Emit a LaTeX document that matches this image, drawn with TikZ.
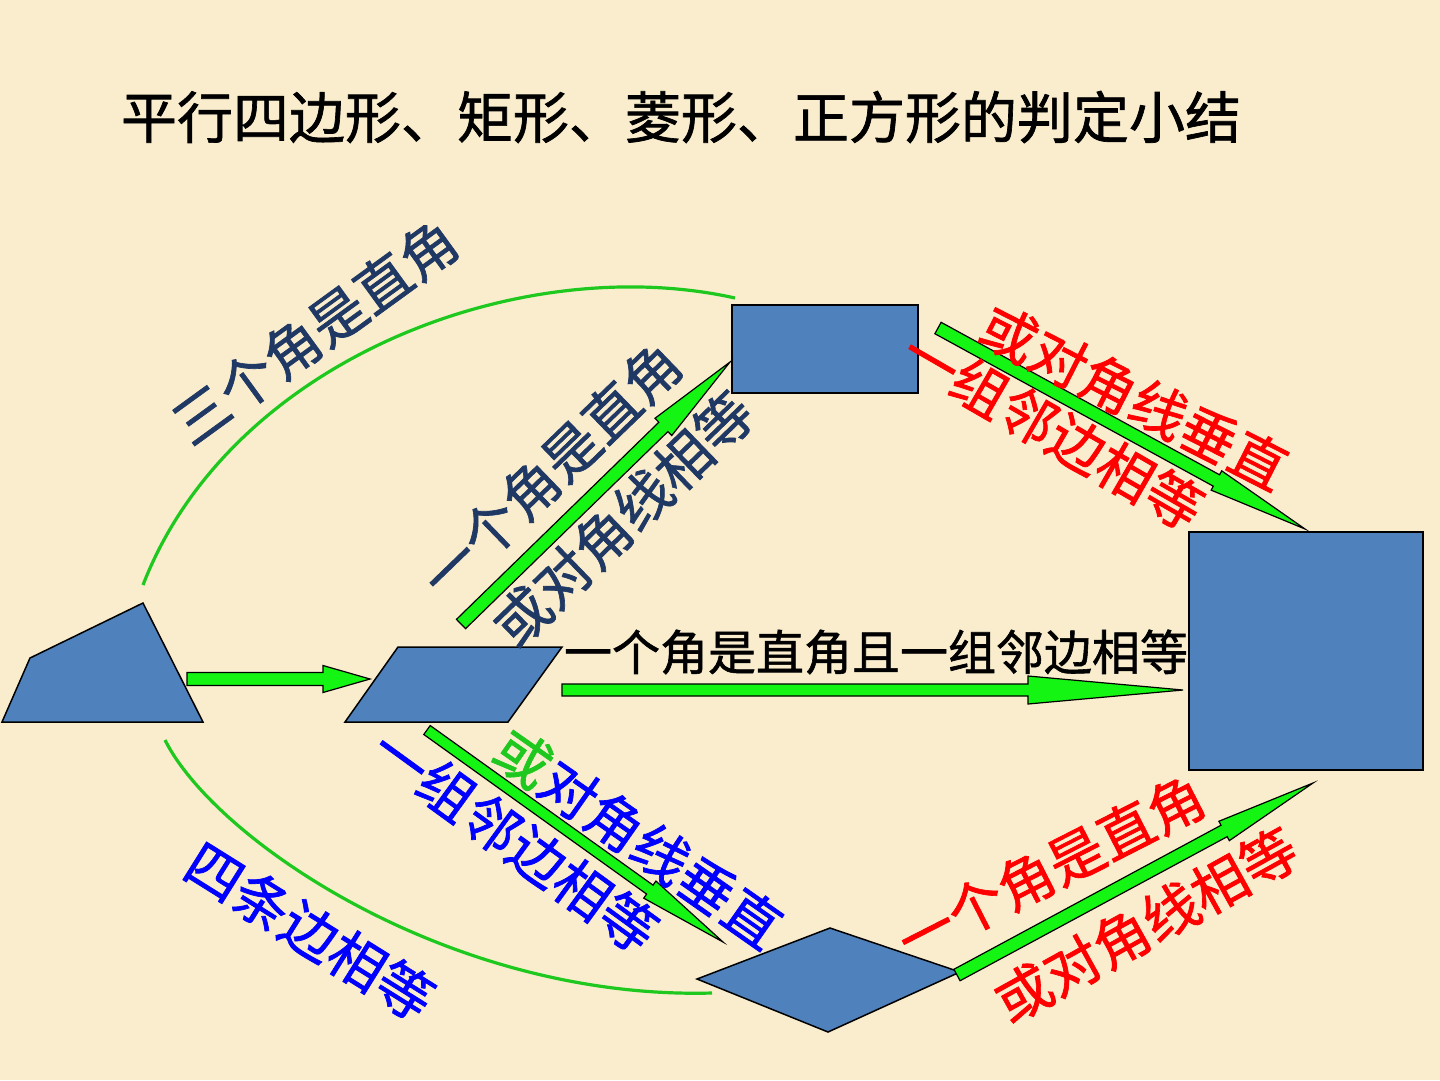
\documentclass[tikz,border=0pt]{standalone}
\usepackage{fontspec}
\newfontfamily\cjk{Noto Sans CJK SC}[FakeBold=1.2]
\usetikzlibrary{calc}
\definecolor{bg}{RGB}{249,237,205}
\definecolor{shapeblue}{RGB}{79,129,189}
\definecolor{arrowgreen}{RGB}{20,245,20}
\definecolor{curvegreen}{RGB}{30,200,30}
\definecolor{navy}{RGB}{31,56,100}
\definecolor{myred}{RGB}{255,0,0}
\definecolor{myblue}{RGB}{0,0,255}
\tikzset{
  shapebox/.style={fill=shapeblue, draw=black, line width=1.5pt, line join=miter},
  arrowbody/.style={fill=arrowgreen, draw=black, line width=1.2pt, line join=miter},
  curveline/.style={draw=curvegreen, line width=3.2pt},
  lbl/.style={inner sep=0pt, font=\cjk\fontsize{56}{60}\selectfont},
  hlbl/.style={inner sep=0pt, font=\cjk\fontsize{48}{52}\selectfont},
  ttl/.style={inner sep=0pt, font=\cjk\fontsize{56}{60}\selectfont},
}
\newcommand\blockarrow[5]{%
  \coordinate (ba-h) at ($(#2)!#5!(#1)$);
  \filldraw[arrowbody] ($(#1)!#3!90:(#2)$) -- ($(ba-h)!#3!90:(#2)$) -- ($(ba-h)!#4!90:(#2)$) -- (#2)
    -- ($(ba-h)!#4!-90:(#2)$) -- ($(ba-h)!#3!-90:(#2)$) -- ($(#1)!#3!-90:(#2)$) -- cycle;
}
\begin{document}
\begin{tikzpicture}[x=1pt,y=-1pt]
\fill[bg] (0,0) rectangle (1440,1080);
\useasboundingbox (0,0) rectangle (1440,1080);

% title
\node[ttl] (title) at (681,117) {平行四边形、矩形、菱形、正方形的判定小结};

% shapes
\coordinate (q1) at (2,722); \coordinate (q2) at (30,658);
\coordinate (q3) at (143,603); \coordinate (q4) at (203,722);
\filldraw[shapebox] (q1) -- (q2) -- (q3) -- (q4) -- cycle;

\coordinate (p1) at (345,722); \coordinate (p2) at (398,647);
\coordinate (p3) at (562,647); \coordinate (p4) at (508,722);
\filldraw[shapebox] (p1) -- (p2) -- (p3) -- (p4) -- cycle;

\coordinate (r1) at (732,305); \coordinate (r2) at (918,393);
\filldraw[shapebox] (r1) rectangle (r2);

\coordinate (s1) at (1189,532); \coordinate (s2) at (1423,770);
\filldraw[shapebox] (s1) rectangle (s2);

\coordinate (d1) at (697,979); \coordinate (d2) at (830,928);
\coordinate (d3) at (960,972); \coordinate (d4) at (828,1032);
\filldraw[shapebox] (d1) -- (d2) -- (d3) -- (d4) -- cycle;

% curves
\coordinate (cu0) at (143,585); \coordinate (cu1) at (735,298);
\draw[curveline] (cu0) .. controls (230,360) and (520,250) .. (cu1);
\coordinate (cl0) at (165,740); \coordinate (cl1) at (712,993);
\draw[curveline] (cl0) .. controls (215,840) and (450,1000) .. (cl1);

% block arrows
\coordinate (a1s) at (187,679); \coordinate (a1e) at (370,679);
\blockarrow{a1s}{a1e}{6.5pt}{13.5pt}{47pt}
\coordinate (a2s) at (461,624); \coordinate (a2e) at (730,362);
\blockarrow{a2s}{a2e}{6.5pt}{12pt}{93pt}
\coordinate (a3s) at (938,328); \coordinate (a3e) at (1305,529);
\blockarrow{a3s}{a3e}{6.5pt}{11pt}{101pt}
\coordinate (a4s) at (562,690); \coordinate (a4e) at (1183,690);
\blockarrow{a4s}{a4e}{6pt}{14pt}{155pt}
\coordinate (a5s) at (427,730); \coordinate (a5e) at (723,942);
\blockarrow{a5s}{a5e}{5.5pt}{10.5pt}{90pt}
\coordinate (a6s) at (957,975); \coordinate (a6e) at (1313,783);
\blockarrow{a6s}{a6e}{6.5pt}{11pt}{101pt}

% labels
\node[lbl, text=navy, rotate=36] (t1) at (315,332) {三个角是直角};
\node[lbl, text=navy, rotate=44] (t2) at (551,470) {一个角是直角};
\node[lbl, text=navy, rotate=44] (t3) at (623,519) {或对角线相等};
\node[hlbl, text=black] (t4) at (876,652) {一个角是直角且一组邻边相等};
\node[lbl, text=myred, rotate=-27] (t5) at (1134,397) {或对角线垂直};
\node[lbl, text=myred, rotate=-30] (t6) at (1053,430) {一组邻边相等};
\node[lbl, text=myblue, rotate=-35] (t7) at (638,838) {\textcolor{curvegreen}{或}对角线垂直};
\node[lbl, text=myblue, rotate=-36] (t8) at (515,840) {一组邻边相等};
\node[lbl, text=myblue, rotate=-32] (t9) at (310,931) {四条边相等};
\node[lbl, text=myred, rotate=27] (t10) at (1051,868) {一个角是直角};
\node[lbl, text=myred, rotate=29] (t11) at (1146,925) {或对角线相等};
\end{tikzpicture}
\end{document}
